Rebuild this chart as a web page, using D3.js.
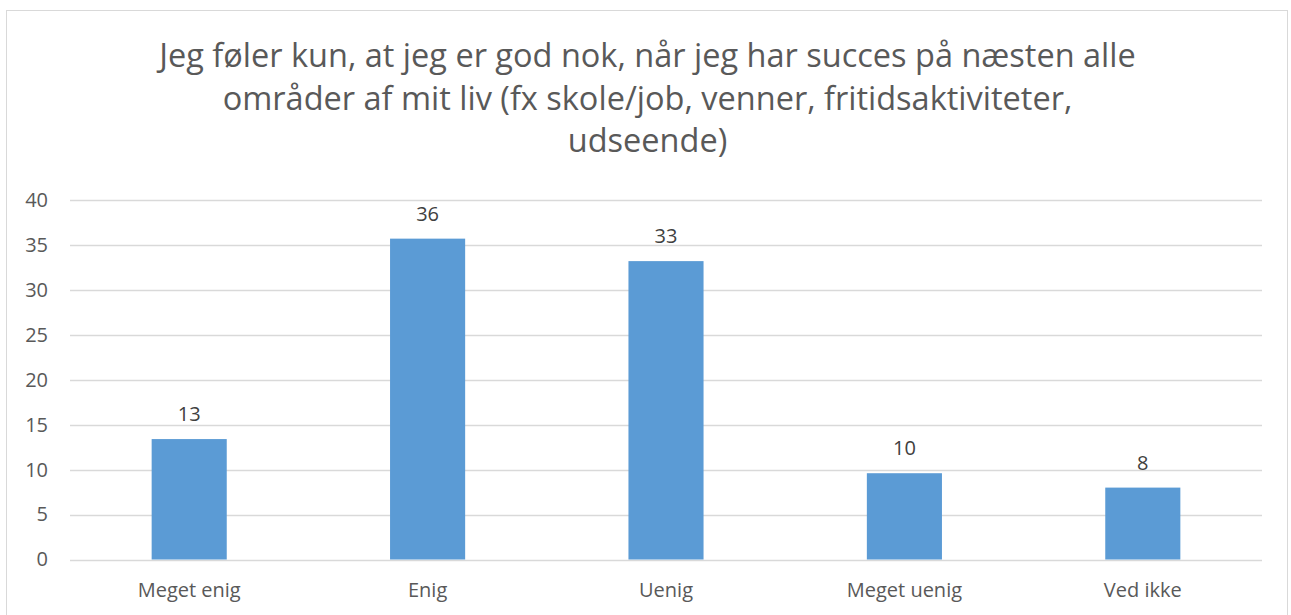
<!DOCTYPE html>
<html>
<head>
<meta charset="utf-8">
<script src="https://cdn.jsdelivr.net/npm/d3@7"></script>
<style>
  body { margin: 0; background: #fff; }
  svg { display: block; font-family: "Open Sans", sans-serif; }
</style>
</head>
<body>
<div id="chart"></div>
<script>
const titleLines = [
  "Jeg føler kun, at jeg er god nok, når jeg har succes på næsten alle",
  "områder af mit liv (fx skole/job, venner, fritidsaktiviteter,",
  "udseende)"
];
const categories = ["Meget enig", "Enig", "Uenig", "Meget uenig", "Ved ikke"];
const values = [13.4, 35.7, 33.2, 9.6, 8.0];
const yTicks = [0, 5, 10, 15, 20, 25, 30, 35, 40];

const width = 1291, height = 615;
const margin = {top: 200, right: 29, bottom: 56, left: 70};
const font = '"Open Sans", sans-serif';

const svg = d3.select('#chart').append('svg')
  .attr('width', width)
  .attr('height', height);

// chart frame
svg.append('rect')
  .attr('x', 6.5).attr('y', 10.5)
  .attr('width', 1281).attr('height', 620)
  .attr('fill', '#fff')
  .attr('stroke', '#d9d9d9')
  .attr('stroke-width', 1);

const x = d3.scaleBand()
  .domain(categories)
  .range([margin.left, width - margin.right])
  .paddingInner(0.685)
  .paddingOuter(0.3425);

const y = d3.scaleLinear()
  .domain([0, 40])
  .range([559.5, margin.top]);

// gridlines
svg.append('g')
  .selectAll('line')
  .data(yTicks)
  .join('line')
  .attr('x1', margin.left)
  .attr('x2', width - margin.right)
  .attr('y1', d => Math.round(y(d)) + 0.5)
  .attr('y2', d => Math.round(y(d)) + 0.5)
  .attr('stroke', '#d9d9d9')
  .attr('stroke-width', 1.3);

// y axis
const yAxis = d3.axisLeft(y).tickValues(yTicks).tickSize(0).tickPadding(22);
const yg = svg.append('g')
  .attr('transform', `translate(${margin.left},0)`)
  .call(yAxis)
  .attr('font-family', font)
  .attr('font-size', 20);
yg.select('.domain').remove();
yg.selectAll('text')
  .style('fill', '#595959');

// bars
svg.append('g')
  .selectAll('rect')
  .data(values)
  .join('rect')
  .attr('x', (d, i) => x(categories[i]))
  .attr('y', d => y(d))
  .attr('width', x.bandwidth())
  .attr('height', d => y(0) - y(d))
  .attr('fill', '#5b9bd5');

// data labels
svg.append('g')
  .selectAll('text')
  .data(values)
  .join('text')
  .attr('x', (d, i) => x(categories[i]) + x.bandwidth() / 2)
  .attr('y', d => y(d) - 18)
  .attr('text-anchor', 'middle')
  .attr('font-family', font)
  .attr('font-size', 20)
  .style('fill', '#404040')
  .text(d => Math.round(d));

// x axis
const xAxis = d3.axisBottom(x).tickSize(0).tickPadding(23);
const xg = svg.append('g')
  .attr('transform', `translate(0,${y(0)})`)
  .call(xAxis)
  .attr('font-family', font)
  .attr('font-size', 20);
xg.select('.domain').remove();
xg.selectAll('text')
  .style('fill', '#595959');

// title
svg.append('g')
  .selectAll('text')
  .data(titleLines)
  .join('text')
  .attr('x', (width) / 2 + 2)
  .attr('y', (d, i) => 67 + i * 42.5)
  .attr('text-anchor', 'middle')
  .attr('font-family', font)
  .attr('font-size', 32.5)
  .style('fill', '#595959')
  .text(d => d);
</script>
</body>
</html>
